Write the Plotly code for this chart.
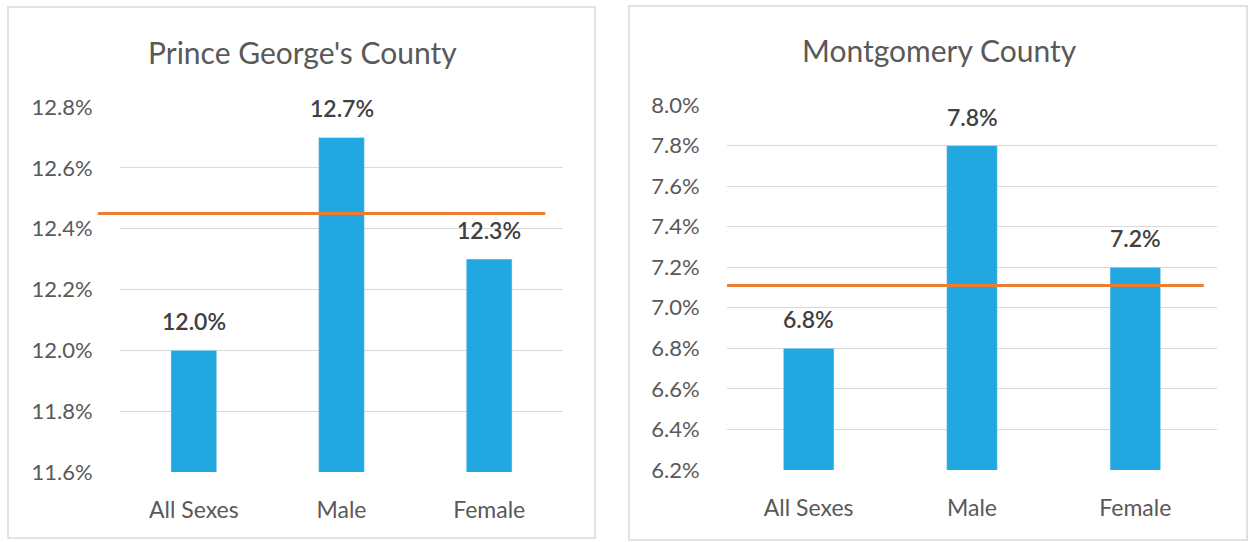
import plotly.graph_objects as go

categories = ["All Sexes", "Male", "Female"]
pg_values = [12.0, 12.7, 12.3]
pg_average = 12.45
mc_values = [6.8, 7.8, 7.2]
mc_average = 7.11
pg_ticks = [11.6, 11.8, 12.0, 12.2, 12.4, 12.6, 12.8]
mc_ticks = [6.2, 6.4, 6.6, 6.8, 7.0, 7.2, 7.4, 7.6, 7.8, 8.0]
titles = ["Prince George's County", "Montgomery County"]

W, H = 1249, 542
FONT = "Lato"
TXT = "#595959"
BAR = "#21a8e1"
ORANGE = "#ed7d31"
GRID = "#d9d9d9"

def px(x):
    return x / W

def py(y):
    return (H - y) / H

fig = go.Figure()

fig.add_trace(go.Bar(x=categories, y=pg_values, marker_color=BAR, width=0.31,
                     xaxis="x", yaxis="y", showlegend=False, hoverinfo="skip"))
fig.add_trace(go.Bar(x=categories, y=mc_values, marker_color=BAR, width=0.31,
                     xaxis="x2", yaxis="y2", showlegend=False, hoverinfo="skip"))

axis_common = dict(showline=False, zeroline=False, fixedrange=True, automargin=False)
xcommon = dict(axis_common, showgrid=False, ticks="outside", ticklen=17,
               tickcolor="rgba(0,0,0,0)", tickfont=dict(family=FONT, size=23, color=TXT))
ycommon = dict(axis_common, showgrid=True, gridcolor=GRID, gridwidth=1,
               ticks="outside", ticklen=22, tickcolor="rgba(0,0,0,0)",
               tickfont=dict(family=FONT, size=22, color=TXT))

fig.update_layout(
    width=W, height=H,
    margin=dict(l=0, r=0, t=0, b=0, pad=0, autoexpand=False),
    paper_bgcolor="white", plot_bgcolor="white",
    xaxis=dict(xcommon, domain=[px(120), px(563)], anchor="y"),
    yaxis=dict(ycommon, domain=[py(472), py(107)], range=[pg_ticks[0], pg_ticks[-1]],
               tickmode="array", tickvals=pg_ticks,
               ticktext=[f"{t:.1f}%" for t in pg_ticks], anchor="x"),
    xaxis2=dict(xcommon, domain=[px(727), px(1217)], anchor="y2"),
    yaxis2=dict(ycommon, domain=[py(470), py(105)], range=[mc_ticks[0], mc_ticks[-1]],
                tickmode="array", tickvals=mc_ticks,
                ticktext=[f"{t:.1f}%" for t in mc_ticks], anchor="x2"),
)

shapes = [
    dict(type="rect", xref="paper", yref="paper", x0=px(8), x1=px(595), y0=py(538), y1=py(7),
         line=dict(color=GRID, width=1.5), fillcolor="rgba(0,0,0,0)", layer="below"),
    dict(type="rect", xref="paper", yref="paper", x0=px(629), x1=px(1247), y0=py(540), y1=py(6),
         line=dict(color=GRID, width=1.5), fillcolor="rgba(0,0,0,0)", layer="below"),
    dict(type="line", xref="x domain", yref="y", x0=-0.05, x1=0.96, y0=pg_average, y1=pg_average,
         line=dict(color=ORANGE, width=3)),
    dict(type="line", xref="x2 domain", yref="y2", x0=0.0, x1=0.973, y0=mc_average, y1=mc_average,
         line=dict(color=ORANGE, width=3)),
]
fig.update_layout(shapes=shapes)

annotations = [
    dict(text=titles[0], xref="paper", yref="paper", x=px(302), y=py(52), showarrow=False,
         xanchor="center", yanchor="middle", font=dict(family=FONT, size=30, color=TXT)),
    dict(text=titles[1], xref="paper", yref="paper", x=px(939), y=py(50), showarrow=False,
         xanchor="center", yanchor="middle", font=dict(family=FONT, size=30, color=TXT)),
]
for axx, axy, vals in (("x", "y", pg_values), ("x2", "y2", mc_values)):
    for c, v in zip(categories, vals):
        annotations.append(dict(text=f"{v:.1f}%", xref=axx, yref=axy, x=c, y=v, yshift=29,
                                showarrow=False, xanchor="center", yanchor="middle",
                                font=dict(family=FONT, size=23, color="#404040", weight=600)))
fig.update_layout(annotations=annotations)

fig.write_html("out.html", config={"displayModeBar": False},
               post_script="document.body.style.margin='0';document.body.style.overflow='hidden';")
